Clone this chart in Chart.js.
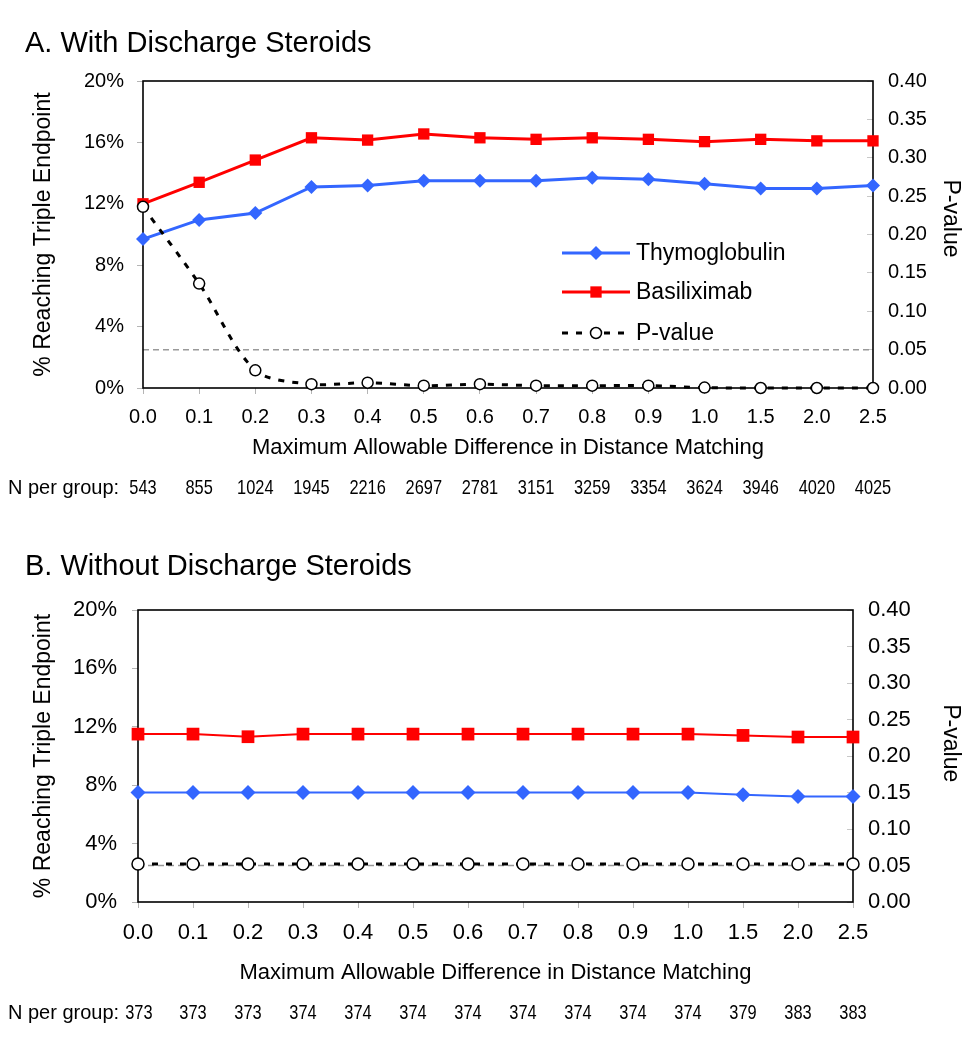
<!DOCTYPE html>
<html>
<head>
<meta charset="utf-8">
<title>Triple endpoint by distance matching</title>
<script src="https://cdn.jsdelivr.net/npm/chart.js@4.4.1/dist/chart.umd.min.js"></script>
<style>
  html, body { margin: 0; padding: 0; background: #fff; }
  #wrap { position: relative; width: 967px; height: 1050px; }
  canvas { position: absolute; left: 0; }
</style>
</head>
<body>
<div id="wrap">
  <canvas id="chartA" width="967" height="520" style="top:0"></canvas>
  <canvas id="chartB" width="967" height="530" style="top:520px"></canvas>
</div>
<script>
// x categories (maximum allowable difference)
const categories = ['0.0', '0.1', '0.2', '0.3', '0.4', '0.5', '0.6', '0.7', '0.8', '0.9', '1.0', '1.5', '2.0', '2.5'];

// Panel A: with discharge steroids
const thymoA = [9.7, 10.95, 11.4, 13.1, 13.2, 13.5, 13.5, 13.5, 13.7, 13.6, 13.3, 13.0, 13.0, 13.2];
const basiliA = [12.0, 13.4, 14.85, 16.3, 16.15, 16.55, 16.3, 16.2, 16.3, 16.2, 16.05, 16.2, 16.1, 16.1];
const pValueA = [0.236, 0.136, 0.023, 0.005, 0.007, 0.003, 0.005, 0.003, 0.003, 0.003, 0.0005, 0.0, 0.0, 0.0];
const nPerGroupA = [543, 855, 1024, 1945, 2216, 2697, 2781, 3151, 3259, 3354, 3624, 3946, 4020, 4025];

// Panel B: without discharge steroids
const thymoB = [7.5, 7.5, 7.5, 7.5, 7.5, 7.5, 7.5, 7.5, 7.5, 7.5, 7.5, 7.35, 7.22, 7.22];
const basiliB = [11.5, 11.5, 11.32, 11.5, 11.5, 11.5, 11.5, 11.5, 11.5, 11.5, 11.5, 11.41, 11.3, 11.3];
const pValueB = [0.052, 0.052, 0.052, 0.052, 0.052, 0.052, 0.052, 0.052, 0.052, 0.052, 0.052, 0.052, 0.052, 0.052];
const nPerGroupB = [373, 373, 373, 374, 374, 374, 374, 374, 374, 374, 374, 379, 383, 383];

// axes
const pctMax = 20, pctStep = 4;
const pMax = 0.40, pStep = 0.05;
const pThreshold = 0.05;

const FONT = "'Liberation Sans', Arial, Helvetica, sans-serif";
Chart.defaults.font.family = FONT;
Chart.defaults.color = '#000';

function drawMarker(ctx, style, x, y, r, fill, stroke, bw) {
    ctx.beginPath();
    if (style === 'rectRot') {
        ctx.moveTo(x, y - r); ctx.lineTo(x + r, y); ctx.lineTo(x, y + r); ctx.lineTo(x - r, y);
        ctx.closePath();
    } else if (style === 'rect') {
        const h = Math.SQRT1_2 * r;
        ctx.rect(x - h, y - h, 2 * h, 2 * h);
    } else {
        ctx.arc(x, y, r, 0, Math.PI * 2);
    }
    ctx.fillStyle = fill;
    ctx.fill();
    if (bw > 0) {
        ctx.setLineDash([]);
        ctx.lineWidth = bw;
        ctx.strokeStyle = stroke;
        ctx.stroke();
    }
}

// frame, 0.05 reference line, panel title, N row and inside legend
const panelExtras = {
    id: 'panelExtras',
    beforeDatasetsDraw(chart, args, o) {
        const {ctx, chartArea: a, scales} = chart;
        const yP = scales.y2.getPixelForValue(o.threshold);
        ctx.save();
        ctx.strokeStyle = '#9a9a9a';
        ctx.lineWidth = 1.5;
        ctx.setLineDash([6, 4]);
        ctx.beginPath();
        ctx.moveTo(a.left, yP);
        ctx.lineTo(a.right, yP);
        ctx.stroke();
        ctx.setLineDash([]);
        ctx.strokeStyle = '#000';
        ctx.lineWidth = 1.6;
        ctx.strokeRect(a.left, a.top, a.right - a.left, a.bottom - a.top);
        ctx.restore();
    },
    afterDraw(chart, args, o) {
        const {ctx, scales} = chart;
        ctx.save();
        ctx.fillStyle = '#000';
        ctx.textAlign = 'left';
        ctx.textBaseline = 'alphabetic';
        ctx.font = '29px ' + FONT;
        ctx.fillText(o.title, 25, o.titleBaseline);

        // N per group row
        ctx.textBaseline = 'middle';
        ctx.font = '20px ' + FONT;
        ctx.fillText('N per group:', 8, o.nRowY);
        const labelEnd = 8 + ctx.measureText('N per group:').width;
        ctx.font = '21px ' + FONT;
        ctx.textAlign = 'center';
        o.counts.forEach((n, i) => {
            const txt = String(n);
            const w = ctx.measureText(txt).width * 0.78;
            const cx = Math.max(scales.x.getPixelForTick(i), labelEnd + 6 + w / 2);
            ctx.save();
            ctx.translate(cx, o.nRowY);
            ctx.scale(0.78, 1);
            ctx.fillText(txt, 0, 0);
            ctx.restore();
        });

        if (o.legend) {
            const lg = o.legend;
            lg.rows.forEach(row => {
                const ds = chart.data.datasets.find(d => d.label === row.label);
                ctx.save();
                ctx.strokeStyle = ds.borderColor;
                ctx.lineWidth = ds.borderWidth;
                ctx.setLineDash(ds.borderDash || []);
                ctx.beginPath();
                ctx.moveTo(lg.x0, row.y);
                ctx.lineTo(lg.x1, row.y);
                ctx.stroke();
                drawMarker(ctx, ds.pointStyle, (lg.x0 + lg.x1) / 2, row.y, ds.pointRadius,
                    ds.pointBackgroundColor, ds.pointBorderColor, ds.pointBorderWidth);
                ctx.restore();
                ctx.font = '23px ' + FONT;
                ctx.textAlign = 'left';
                ctx.textBaseline = 'middle';
                ctx.fillStyle = '#000';
                ctx.fillText(row.label, lg.x1 + 6, row.y + 1);
            });
        }
        ctx.restore();
    }
};

function makePanel(id, cfg) {
    const datasets = [
        {
            label: 'P-value', data: cfg.pValue, yAxisID: 'y2',
            borderColor: '#000', borderWidth: 3, borderDash: [6, 8],
            pointStyle: 'circle', pointRadius: cfg.circleR,
            pointBackgroundColor: '#fff', pointBorderColor: '#000', pointBorderWidth: 1.5,
            tension: cfg.tension, clip: false, order: 0
        },
        {
            label: 'Basiliximab', data: cfg.basili, yAxisID: 'y',
            borderColor: '#ff0000', borderWidth: cfg.lineW,
            pointStyle: 'rect', pointRadius: cfg.squareR,
            pointBackgroundColor: '#ff0000', pointBorderColor: '#ff0000', pointBorderWidth: 0,
            clip: false, order: 1
        },
        {
            label: 'Thymoglobulin', data: cfg.thymo, yAxisID: 'y',
            borderColor: '#3366ff', borderWidth: cfg.lineW,
            pointStyle: 'rectRot', pointRadius: cfg.diamondR,
            pointBackgroundColor: '#3366ff', pointBorderColor: '#3366ff', pointBorderWidth: 0,
            clip: false, order: 2
        }
    ];

    return new Chart(document.getElementById(id), {
        type: 'line',
        data: { labels: categories, datasets },
        plugins: [panelExtras],
        options: {
            responsive: false,
            animation: false,
            layout: { padding: { top: cfg.top, bottom: cfg.bottomPad, left: 0, right: 0 } },
            plugins: {
                legend: { display: false },
                tooltip: { enabled: false },
                panelExtras: {
                    title: cfg.title, titleBaseline: cfg.titleBaseline,
                    counts: cfg.counts, nRowY: cfg.nRowY,
                    threshold: pThreshold, legend: cfg.legend
                }
            },
            scales: {
                x: {
                    offset: false,
                    border: { display: false },
                    grid: { drawOnChartArea: false, tickLength: 6, color: '#b5b5b5' },
                    ticks: { font: { size: cfg.tickSize }, padding: cfg.xTickPad, maxRotation: 0, autoSkip: false },
                    title: {
                        display: true, text: 'Maximum Allowable Difference in Distance Matching',
                        font: { size: 22 }, padding: { top: 0, bottom: 0 }
                    },
                    afterFit: s => { s.height = cfg.xHeight; }
                },
                y: {
                    position: 'left', min: 0, max: pctMax,
                    border: { display: false },
                    grid: { drawOnChartArea: false, tickLength: 6, color: '#b5b5b5' },
                    ticks: { stepSize: pctStep, font: { size: cfg.tickSize }, padding: cfg.yTickPad, callback: v => v + '%' },
                    title: {
                        display: true, text: '% Reaching Triple Endpoint',
                        font: { size: 23 }, padding: { top: 30, bottom: 0 }
                    },
                    afterFit: s => { s.width = cfg.leftW; }
                },
                y2: {
                    position: 'right', min: 0, max: pMax,
                    border: { display: false },
                    grid: { drawOnChartArea: false, tickLength: -6, color: '#c8c8c8' },
                    ticks: { stepSize: pStep, font: { size: cfg.tickSize }, padding: 21, callback: v => v.toFixed(2) },
                    title: {
                        display: true, text: 'P-value' + cfg.pTitlePad,
                        font: { size: 23 }, padding: { top: 3, bottom: 0 }
                    },
                    afterFit: s => { s.width = cfg.rightW; }
                }
            }
        }
    });
}

makePanel('chartA', {
    title: 'A. With Discharge Steroids', titleBaseline: 52,
    thymo: thymoA, basili: basiliA, pValue: pValueA, counts: nPerGroupA,
    top: 81, bottomPad: 59, xHeight: 73, leftW: 143, rightW: 94,
    tickSize: 20, xTickPad: 11, yTickPad: 13, nRowY: 488,
    lineW: 3, diamondR: 7, squareR: 8, circleR: 5.5, tension: 0.3,
    pTitlePad: '     ',
    legend: {
        x0: 562, x1: 630,
        rows: [
            { label: 'Thymoglobulin', y: 253 },
            { label: 'Basiliximab', y: 292 },
            { label: 'P-value', y: 333 }
        ]
    }
});

makePanel('chartB', {
    title: 'B. Without Discharge Steroids', titleBaseline: 55,
    thymo: thymoB, basili: basiliB, pValue: pValueB, counts: nPerGroupB,
    top: 90, bottomPad: 64, xHeight: 84, leftW: 138, rightW: 114,
    tickSize: 22, xTickPad: 12, yTickPad: 15, nRowY: 493,
    lineW: 2, diamondR: 7.5, squareR: 9, circleR: 6, tension: 0,
    pTitlePad: '    ',
    legend: null
});
</script>
</body>
</html>
